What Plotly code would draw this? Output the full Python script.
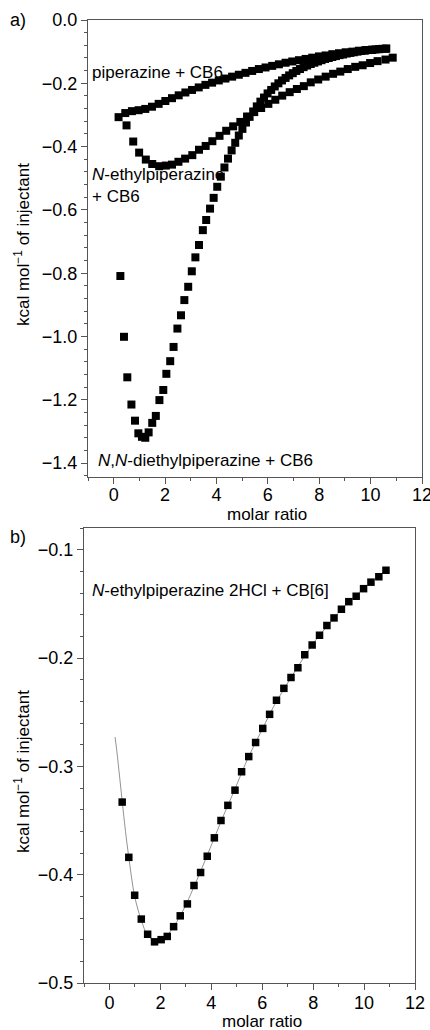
import plotly.graph_objects as go

# values (molar ratio vs heat, kcal/mol of injectant)
pip_ratio = [0.19, 0.45, 0.71, 0.97, 1.23, 1.49, 1.75, 2.01, 2.27, 2.53, 2.79, 3.05, 3.31,
             3.57, 3.83, 4.09, 4.35, 4.61, 4.87, 5.13, 5.39, 5.65, 5.91, 6.17, 6.43, 6.69,
             6.95, 7.21, 7.47, 7.73, 7.99, 8.25, 8.51, 8.77, 9.03, 9.29, 9.55, 9.81, 10.07,
             10.33, 10.59]
pip_heat = [-0.307, -0.294, -0.288, -0.285, -0.281, -0.274, -0.265, -0.256, -0.247, -0.238,
            -0.229, -0.221, -0.213, -0.205, -0.198, -0.191, -0.185, -0.179, -0.173, -0.167,
            -0.161, -0.155, -0.150, -0.145, -0.140, -0.135, -0.131, -0.127, -0.123, -0.119,
            -0.115, -0.112, -0.108, -0.105, -0.102, -0.100, -0.097, -0.095, -0.094, -0.092,
            -0.091]

etpip_ratio = [0.50, 0.76, 0.99, 1.25, 1.50, 1.77, 2.03, 2.27, 2.52, 2.78, 3.06, 3.32, 3.58,
               3.84, 4.12, 4.38, 4.65, 4.93, 5.19, 5.47, 5.74, 6.02, 6.29, 6.56, 6.85, 7.13,
               7.40, 7.67, 7.96, 8.25, 8.54, 8.82, 9.11, 9.40, 9.69, 9.98, 10.27, 10.58, 10.86]
etpip_heat = [-0.333, -0.384, -0.419, -0.441, -0.455, -0.462, -0.460, -0.457, -0.448, -0.438,
              -0.427, -0.410, -0.398, -0.383, -0.366, -0.350, -0.336, -0.322, -0.305, -0.291,
              -0.278, -0.265, -0.252, -0.239, -0.228, -0.218, -0.209, -0.197, -0.188, -0.179,
              -0.170, -0.163, -0.155, -0.148, -0.143, -0.136, -0.130, -0.125, -0.119]

detpip_ratio = [0.26, 0.40, 0.53, 0.69, 0.83, 0.96, 1.10, 1.23, 1.36, 1.50, 1.64, 1.78, 1.93,
                2.05, 2.20, 2.33, 2.48, 2.62, 2.75, 2.90, 3.04, 3.18, 3.32, 3.47, 3.60, 3.75,
                3.89, 4.03, 4.17, 4.31, 4.45, 4.59, 4.73, 4.87, 5.01, 5.15, 5.29, 5.43, 5.57,
                5.71, 5.85, 5.99, 6.13, 6.27, 6.41, 6.55, 6.69, 6.83, 6.97, 7.11, 7.25, 7.39,
                7.53, 7.67, 7.81, 7.95, 8.09, 8.23, 8.37, 8.51, 8.65, 8.79, 8.93, 9.07, 9.21,
                9.35, 9.49, 9.63, 9.77, 9.91, 10.05, 10.19, 10.33, 10.47, 10.61]
detpip_heat = [-0.809, -1.001, -1.129, -1.215, -1.266, -1.306, -1.317, -1.320, -1.303, -1.273,
               -1.251, -1.201, -1.169, -1.118, -1.078, -1.033, -0.975, -0.933, -0.885, -0.843,
               -0.794, -0.750, -0.711, -0.664, -0.632, -0.596, -0.562, -0.527, -0.495, -0.466,
               -0.438, -0.412, -0.388, -0.365, -0.344, -0.324, -0.306, -0.289, -0.273, -0.258,
               -0.245, -0.232, -0.221, -0.210, -0.200, -0.191, -0.183, -0.175, -0.168, -0.161,
               -0.155, -0.149, -0.144, -0.139, -0.135, -0.131, -0.127, -0.123, -0.120, -0.117,
               -0.114, -0.111, -0.109, -0.106, -0.104, -0.102, -0.100, -0.098, -0.097, -0.095,
               -0.094, -0.093, -0.092, -0.091, -0.090]

# fitted curve for panel b
fit_ratio = [0.22, 0.29, 0.40, 0.50, 0.63, 0.76, 0.99, 1.25, 1.50, 1.77, 2.03, 2.27, 2.52,
             2.78, 3.06, 3.32, 3.58, 3.84, 4.12, 4.38, 4.65, 4.93, 5.19, 5.47, 5.74, 6.02,
             6.29, 6.56, 6.85, 7.13, 7.40, 7.67, 7.96, 8.25, 8.54, 8.82, 9.11, 9.40, 9.69,
             9.98, 10.27, 10.58, 10.86]
fit_heat = [-0.273, -0.286, -0.310, -0.332, -0.360, -0.384, -0.420, -0.442, -0.456, -0.461,
            -0.461, -0.456, -0.448, -0.438, -0.425, -0.411, -0.397, -0.382, -0.366, -0.351,
            -0.336, -0.321, -0.306, -0.291, -0.278, -0.265, -0.252, -0.240, -0.229, -0.218,
            -0.208, -0.198, -0.188, -0.179, -0.171, -0.163, -0.155, -0.148, -0.142, -0.136,
            -0.130, -0.124, -0.119]

x_ticks = [0, 2, 4, 6, 8, 10, 12]
ya_ticks = [0.0, -0.2, -0.4, -0.6, -0.8, -1.0, -1.2, -1.4]
yb_ticks = [-0.1, -0.2, -0.3, -0.4, -0.5]

FONT = "Liberation Sans, Arial, sans-serif"
AXIS_COLOR = "#555555"
W, H = 430, 1030

fig = go.Figure()

marker_a = dict(symbol="square", size=8, color="black")
fig.add_trace(go.Scatter(x=pip_ratio, y=pip_heat, mode="markers", marker=marker_a,
                         xaxis="x", yaxis="y"))
fig.add_trace(go.Scatter(x=detpip_ratio, y=detpip_heat, mode="markers", marker=marker_a,
                         xaxis="x", yaxis="y"))
fig.add_trace(go.Scatter(x=etpip_ratio, y=etpip_heat, mode="markers", marker=marker_a,
                         xaxis="x", yaxis="y"))

fig.add_trace(go.Scatter(x=fit_ratio, y=fit_heat, mode="lines", line_shape="spline",
                         line=dict(color="#777777", width=0.8), xaxis="x2", yaxis="y2"))
fig.add_trace(go.Scatter(x=etpip_ratio, y=etpip_heat, mode="markers",
                         marker=dict(symbol="square", size=7.5, color="black"),
                         xaxis="x2", yaxis="y2"))


def main_axis(domain, anchor, rng, tickvals, minor_dtick, fmt, standoff=0):
    return dict(
        domain=domain, anchor=anchor, range=rng, tickmode="array", tickvals=tickvals,
        tickformat=fmt, ticks="outside", ticklen=6, tickwidth=1.2, tickcolor=AXIS_COLOR,
        minor=dict(ticks="outside", ticklen=3, tickwidth=1.2, tickcolor=AXIS_COLOR,
                   tickmode="linear", tick0=0, dtick=minor_dtick),
        showline=True, linecolor=AXIS_COLOR, linewidth=1.3, mirror=True,
        showgrid=False, zeroline=False, automargin=False, ticklabeloverflow="allow",
        ticklabelstandoff=standoff,
        tickfont=dict(family=FONT, size=18, color="black"),
    )


def mirror_axis(overlay, anchor, side, rng, tickvals, minor_dtick):
    return dict(
        overlaying=overlay, anchor=anchor, side=side, range=rng, tickmode="array",
        tickvals=tickvals, ticks="inside", ticklen=6, tickwidth=1.2, tickcolor=AXIS_COLOR,
        minor=dict(ticks="inside", ticklen=3, tickwidth=1.2, tickcolor=AXIS_COLOR,
                   tickmode="linear", tick0=0, dtick=minor_dtick),
        showticklabels=False, showline=False, showgrid=False, zeroline=False,
        automargin=False,
    )


xa_dom = [88 / W, 422 / W]
ya_dom = [1 - 477 / H, 1 - 20 / H]
xb_dom = [84 / W, 415 / W]
yb_dom = [1 - 983 / H, 1 - 528 / H]
x_rng = [-1, 12]
ya_rng = [-1.444, 0]
yb_rng = [-0.5, -0.08]

fig.update_layout(
    width=W, height=H, margin=dict(l=0, r=0, t=0, b=0),
    plot_bgcolor="white", paper_bgcolor="white", showlegend=False,
    font=dict(family=FONT, color="black"),
    xaxis=main_axis(xa_dom, "y", x_rng, x_ticks, 1, "d", -5),
    yaxis=main_axis(ya_dom, "x", ya_rng, ya_ticks, 0.04, ".1f"),
    xaxis2=main_axis(xb_dom, "y2", x_rng, x_ticks, 1, "d", -3),
    yaxis2=main_axis(yb_dom, "x2", yb_rng, yb_ticks, 0.02, ".1f"),
    xaxis3=mirror_axis("x", "y", "top", x_rng, x_ticks, 1),
    yaxis3=mirror_axis("y", "x", "right", ya_rng, ya_ticks, 0.04),
    xaxis4=mirror_axis("x2", "y2", "top", x_rng, x_ticks, 1),
    yaxis4=mirror_axis("y2", "x2", "right", yb_rng, yb_ticks, 0.02),
)

ytitle = "kcal mol<sup>−1</sup> of injectant"

# (text, x px, y px, xanchor, angle, size)
labels = [
    ("a)", 8, 20, "left", 0, 18),
    ("b)", 8, 537, "left", 0, 18),
    ("piperazine + CB6", 90, 72, "left", 0, 17),
    ("<i>N</i>-ethylpiperazine<br>+ CB6", 90, 186, "left", 0, 17),
    ("<i>N</i>,<i>N</i>-diethylpiperazine + CB6", 96, 460, "left", 0, 17),
    ("<i>N</i>-ethylpiperazine 2HCl + CB[6]", 90, 590, "left", 0, 17),
    ("molar ratio", 267, 514, "center", 0, 17),
    ("molar ratio", 262, 1021, "center", 0, 17),
    (ytitle, 22, 245, "center", -90, 17),
    (ytitle, 22, 772, "center", -90, 17),
]
for text, px, py, xa, angle, size in labels:
    fig.add_annotation(text=text, xref="paper", yref="paper", x=px / W, y=1 - py / H,
                       xanchor=xa, yanchor="middle", showarrow=False, align="left",
                       textangle=angle, font=dict(family=FONT, size=size, color="black"))

# the page body has a default 8px margin; drop it so the figure fills the window
fig.write_html("out.html", config={"displayModeBar": False},
               post_script="document.body.style.margin = '0';")
